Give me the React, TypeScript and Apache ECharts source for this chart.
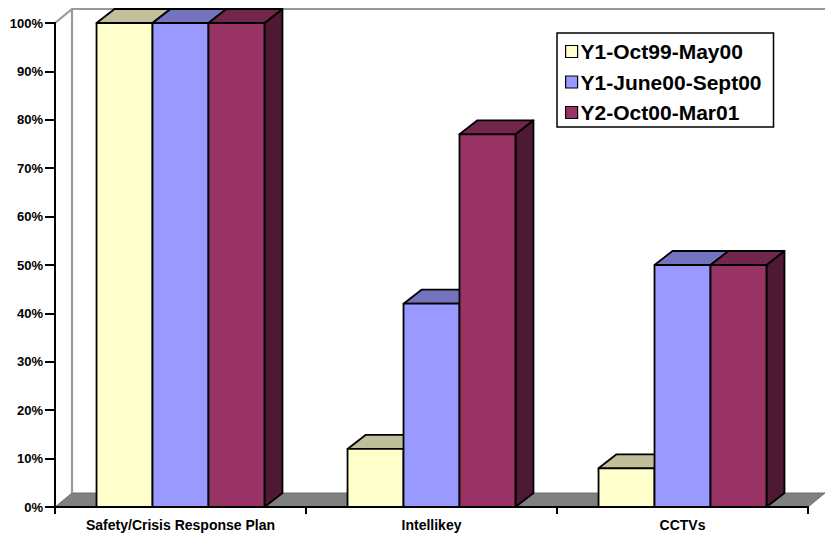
import React, { useEffect, useRef } from "react";
import * as echarts from "echarts";

const categories = ["Safety/Crisis Response Plan", "Intellikey", "CCTVs"];
const seriesNames = ["Y1-Oct99-May00", "Y1-June00-Sept00", "Y2-Oct00-Mar01"];
const y1Oct99May00 = [100, 12, 8];
const y1June00Sept00 = [100, 42, 50];
const y2Oct00Mar01 = [100, 77, 50];
const seriesValues = [y1Oct99May00, y1June00Sept00, y2Oct00Mar01];
const yMin = 0;
const yMax = 100;
const yInterval = 10;

const frontColors = ["#FFFFCC", "#9999FF", "#993366"];
const topColors = ["#BFBF99", "#7373BF", "#73264D"];
const sideColors = ["#80805F", "#4D4D80", "#4D1933"];

const DX = 18;
const DY = -14;
const FONT = 'Arial, "Liberation Sans", Helvetica, sans-serif';

export default function App() {
  const ref = useRef<HTMLDivElement>(null);
  useEffect(() => {
    if (!ref.current) return;
    const chart = echarts.init(ref.current, null, { renderer: "svg" });

    const barSeries = seriesNames.map((name, k) => ({
      name,
      type: "custom",
      z: 2,
      itemStyle: { color: frontColors[k], borderColor: "#000", borderWidth: 1 },
      encode: { x: 0, y: 1 },
      data: seriesValues[k].map((v, i) => [i, v]),
      renderItem: (params: any, api: any) => {
        const cat = api.value(0);
        const v = api.value(1);
        const base = api.coord([cat, 0]);
        const tp = api.coord([cat, v]);
        const band = api.size([1, 0])[0];
        const w = band * 0.223;
        const x0 = base[0] - 1.5 * w + k * w;
        const x1 = x0 + w;
        const yb = base[1];
        const yt = tp[1];
        const st = { stroke: "#000", lineWidth: 1.8, lineJoin: "round" };
        return {
          type: "group",
          children: [
            {
              type: "polygon",
              shape: { points: [[x1, yb], [x1 + DX, yb + DY], [x1 + DX, yt + DY], [x1, yt]] },
              style: { fill: sideColors[k], ...st },
            },
            {
              type: "polygon",
              shape: { points: [[x0, yt], [x0 + DX, yt + DY], [x1 + DX, yt + DY], [x1, yt]] },
              style: { fill: topColors[k], ...st },
            },
            {
              type: "rect",
              shape: { x: x0, y: yt, width: w, height: yb - yt },
              style: { fill: frontColors[k], ...st },
            },
          ],
        };
      },
    }));

    const wallSeries = {
      name: "wall",
      type: "custom",
      z: 1,
      silent: true,
      encode: { x: 0, y: 1 },
      data: [[0, 0]],
      renderItem: (params: any) => {
        const cs = params.coordSys;
        const L = cs.x;
        const T = cs.y;
        const R = cs.x + cs.width;
        const B = cs.y + cs.height;
        return {
          type: "group",
          children: [
            {
              type: "polygon",
              shape: { points: [[L, B], [L + DX - 1, B + DY], [R + DX - 1, B + DY], [R, B]] },
              style: { fill: "#808080", stroke: "#707070", lineWidth: 1 },
            },
            {
              type: "polyline",
              shape: { points: [[L, T], [L + DX - 1, T + DY], [R + DX + 5, T + DY]] },
              style: { fill: "none", stroke: "#999999", lineWidth: 2.2 },
            },
            {
              type: "line",
              shape: { x1: L + DX - 1, y1: T + DY, x2: L + DX - 1, y2: B + DY },
              style: { stroke: "#999999", lineWidth: 2.2 },
            },
          ],
        };
      },
    };

    chart.setOption({
      animation: false,
      grid: { left: 55, right: 17, top: 23, bottom: 26, containLabel: false },
      legend: {
        orient: "vertical",
        left: 557,
        top: 33,
        padding: [8, 12, 4, 8],
        itemGap: 9.5,
        itemWidth: 12,
        itemHeight: 12,
        borderColor: "#000",
        borderWidth: 1.5,
        backgroundColor: "#fff",
        data: seriesNames.map((n) => ({ name: n, icon: "rect" })),
        itemStyle: { borderColor: "#000", borderWidth: 1.2 },
        textStyle: { fontFamily: FONT, fontWeight: "bold", fontSize: 21, color: "#000", padding: [0, 0, 0, -2] },
        selectedMode: false,
      },
      xAxis: {
        type: "category",
        data: categories,
        z: 10,
        boundaryGap: true,
        axisLine: { lineStyle: { color: "#000", width: 2 } },
        axisTick: { show: true, length: 7, alignWithLabel: false, lineStyle: { color: "#000", width: 2 } },
        axisLabel: { margin: 11, fontFamily: FONT, fontWeight: "bold", fontSize: 14, color: "#000" },
        splitLine: { show: false },
      },
      yAxis: {
        type: "value",
        min: yMin,
        max: yMax,
        interval: yInterval,
        z: 10,
        axisLine: { show: true, lineStyle: { color: "#000", width: 2 } },
        axisTick: { show: true, length: 10, lineStyle: { color: "#000", width: 2 } },
        axisLabel: {
          margin: 12,
          formatter: "{value}%",
          fontFamily: FONT,
          fontWeight: "bold",
          fontSize: 13,
          color: "#000",
        },
        splitLine: { show: false },
      },
      series: [wallSeries, ...barSeries],
    });
    return () => chart.dispose();
  }, []);
  return (
    <div
      ref={ref}
      style={{ position: "fixed", left: 0, top: 0, width: 825, height: 533, background: "#fff" }}
    />
  );
}
